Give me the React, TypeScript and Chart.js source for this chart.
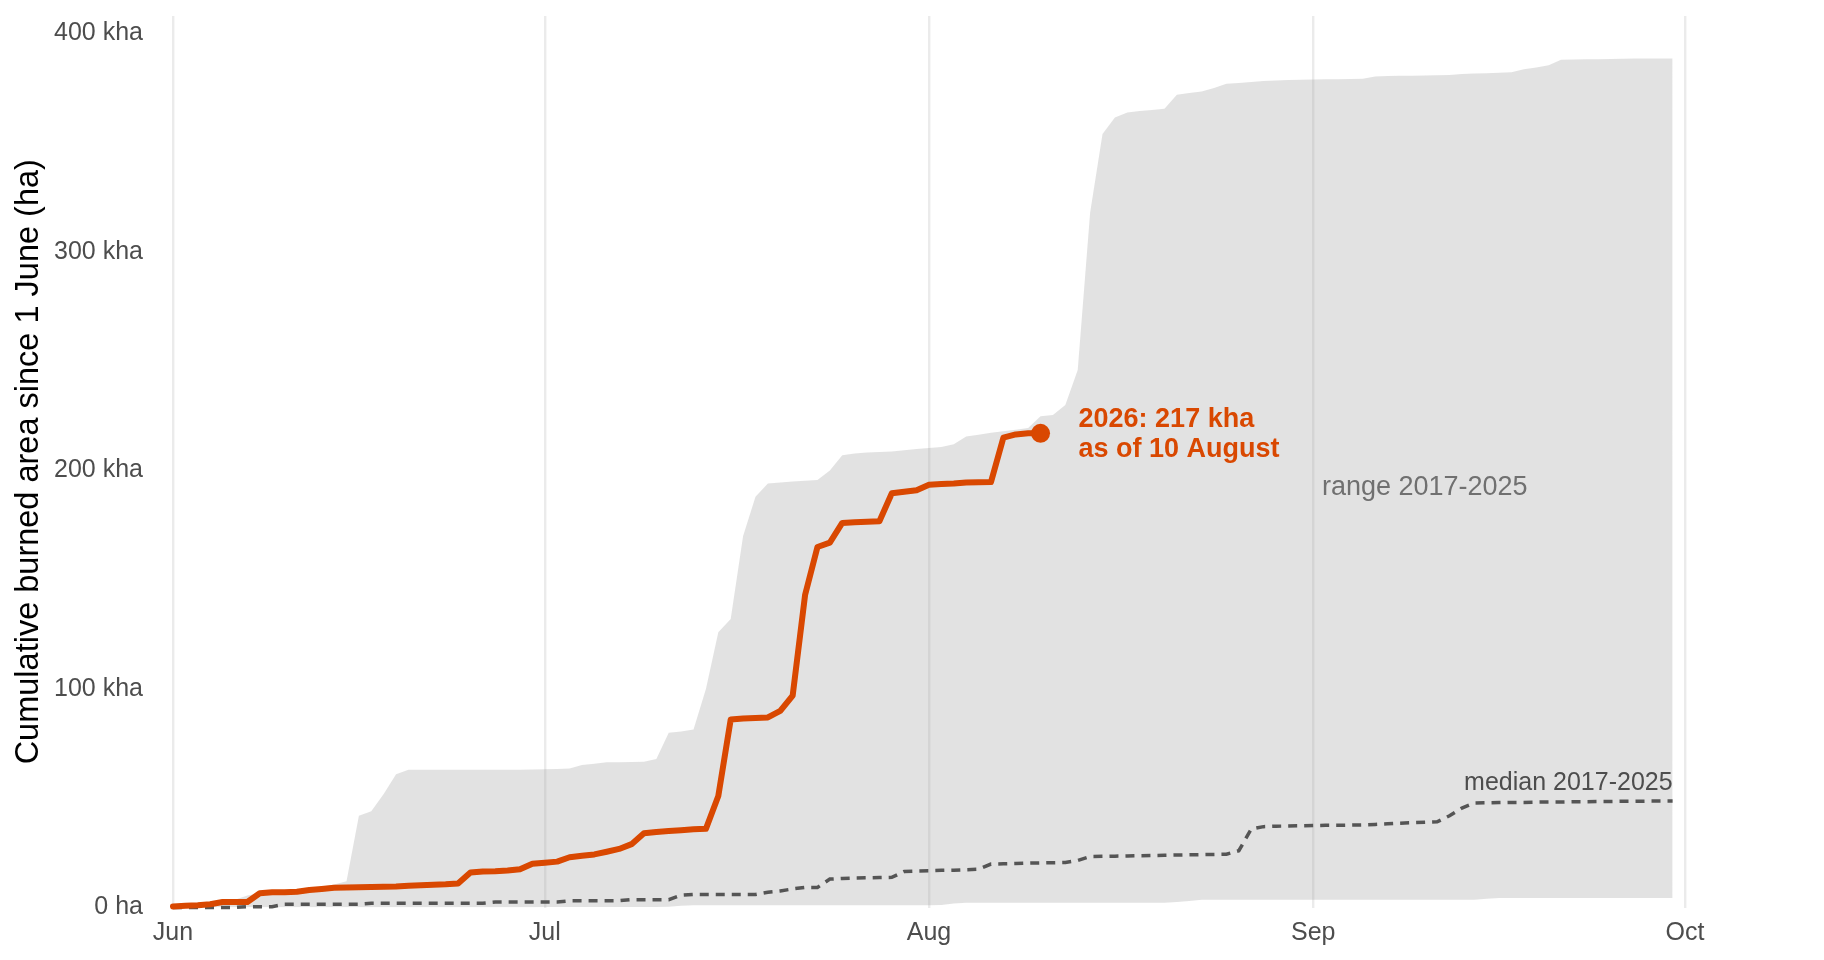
import { useEffect, useRef } from "react";
import { Chart, registerables } from "chart.js";

Chart.register(...registerables);

// x axis: days since 1 June
const monthTicks = [0, 30, 61, 92, 122];
const monthLabels = ["Jun", "Jul", "Aug", "Sep", "Oct"];
// y axis in kha
const yTicks = [0, 100, 200, 300, 400];
const yTickLabels = ["0 ha", "100 kha", "200 kha", "300 kha", "400 kha"];

// cumulative burned area 2026 (kha), one value per day from 1 June to 10 August
const burned2026 = [
  0.5, 0.8, 1, 1.5, 2.5, 2.5, 2.5, 6.5, 7, 7,
  7.2, 8, 8.5, 9, 9.2, 9.3, 9.4, 9.5, 9.6, 10,
  10.2, 10.4, 10.6, 11, 16, 16.5, 16.6, 16.9, 17.5, 20,
  20.5, 21, 23, 23.7, 24.3, 25.5, 26.8, 29, 34, 34.6,
  35, 35.4, 35.8, 36, 51, 86, 86.5, 86.7, 87, 90,
  97, 143, 165, 167, 176, 176.3, 176.5, 176.8, 189.6, 190.3,
  191, 193.5, 193.8, 194, 194.5, 194.6, 194.7, 215, 216.5, 217,
  217,
];

// range 2017-2025, lower and upper bound (kha), 1 June to 30 September
const rangeLow = [
  0, 0, 0, 0, 0, 0, 0, 0, 0, 0,
  0, 0, 0, 0, 0, 0, 0, 0, 0, 0,
  0, 0, 0, 0, 0, 0, 0, 0, 0, 0,
  0.2, 0.2, 0.2, 0.2, 0.2, 0.2, 0.2, 0.2, 0.2, 0.2,
  0.4, 0.8, 1, 1, 1, 1, 1, 1, 1, 1,
  1, 1, 1, 1, 1, 1, 1, 1, 1, 1,
  1, 1, 1.2, 1.8, 2.2, 2.2, 2.2, 2.2, 2.2, 2.2,
  2.2, 2.2, 2.2, 2.2, 2.2, 2.2, 2.2, 2.2, 2.2, 2.2,
  2.2, 2.5, 3, 3.6, 3.6, 3.6, 3.6, 3.6, 3.6, 3.6,
  3.6, 3.6, 3.6, 3.6, 3.6, 3.6, 3.6, 3.6, 3.6, 3.6,
  3.6, 3.6, 3.6, 3.6, 3.6, 3.6, 4, 4.4, 4.4, 4.4,
  4.4, 4.4, 4.4, 4.4, 4.4, 4.4, 4.4, 4.4, 4.4, 4.4,
  4.4, 4.4,
];

const rangeHigh = [
  0.5, 1, 1.5, 2, 2.5, 3.5, 5.5, 6.5, 7, 7.5,
  8, 8.5, 9.5, 10.5, 12, 42, 44, 52, 61, 63,
  63, 63, 63, 63, 63, 63, 63, 63, 63, 63.2,
  63.3, 63.4, 63.6, 65.2, 65.8, 66.5, 66.5, 66.6, 66.7, 68,
  80, 80.6, 81.5, 100, 126, 132, 170, 188, 194, 194.5,
  195, 195.3, 195.6, 200, 207, 207.8, 208.2, 208.5, 208.7, 209.3,
  209.8, 210.3, 210.8, 212, 215.5, 216.4, 217.3, 218, 218.7, 219.4,
  224.8, 225.4, 230, 246, 318, 354, 361.6, 363.8, 364.5, 365,
  365.5, 372, 372.8, 373.5, 375, 377, 377.3, 377.8, 378.2, 378.5,
  378.7, 378.8, 378.9, 379, 379.1, 379.2, 379.3, 380.3, 380.5, 380.6,
  380.7, 380.8, 380.9, 381, 381.4, 381.7, 381.8, 382, 382.3, 383.6,
  384.4, 385.5, 388, 388.1, 388.2, 388.2, 388.3, 388.4, 388.5, 388.5,
  388.6, 388.6,
];

const median = [
  0, 0, 0, 0, 0, 0, 0.4, 0.4, 0.4, 1.5,
  1.5, 1.5, 1.5, 1.5, 1.5, 1.5, 1.9, 1.9, 1.9, 1.9,
  1.9, 1.9, 1.9, 1.9, 1.9, 1.9, 2.5, 2.5, 2.5, 2.5,
  2.5, 2.5, 3.1, 3.1, 3.1, 3.1, 3.1, 3.6, 3.6, 3.6,
  3.6, 5.6, 6, 6, 6, 6, 6, 6, 7, 7.6,
  8.5, 9.2, 9.2, 13, 13.3, 13.5, 13.6, 13.7, 13.8, 16.5,
  16.7, 16.8, 17, 17.1, 17.3, 17.5, 19.9, 20, 20.1, 20.3,
  20.4, 20.5, 20.6, 21.5, 23.3, 23.4, 23.5, 23.6, 23.7, 23.8,
  23.9, 24, 24.1, 24.2, 24.3, 24.4, 26, 35.9, 37, 37.2,
  37.3, 37.4, 37.5, 37.6, 37.6, 37.7, 37.8, 38, 38.3, 38.6,
  38.8, 39, 39.2, 42, 45.5, 47.8, 47.9, 48, 48.1, 48.1,
  48.2, 48.3, 48.3, 48.4, 48.4, 48.5, 48.5, 48.6, 48.6, 48.7,
  48.7, 48.7,
];

// label anchors [day, kha]
const rangeLabelAt = [101, 192];
const medianLabelAt = [121, 57];

const ORANGE = "#d94801";
const FONT = "'Liberation Sans', Arial, sans-serif";

const toPoints = (arr: number[]) => arr.map((v, i) => ({ x: i, y: v }));

const labelsPlugin = {
  id: "labels",
  afterDatasetsDraw(chart: any) {
    const { ctx } = chart;
    const xs = chart.scales.x;
    const ys = chart.scales.y;
    const lastDay = burned2026.length - 1;
    const lastVal = burned2026[lastDay];
    const px = xs.getPixelForValue(lastDay);
    const py = ys.getPixelForValue(lastVal);

    ctx.save();
    ctx.textBaseline = "middle";

    ctx.font = `bold 27px ${FONT}`;
    ctx.fillStyle = ORANGE;
    ctx.textAlign = "left";
    ctx.fillText(`2026: ${lastVal} kha`, px + 38, py - 14);
    ctx.fillText("as of 10 August", px + 38, py + 16);

    ctx.font = `27px ${FONT}`;
    ctx.fillStyle = "#707070";
    ctx.textAlign = "center";
    ctx.fillText(
      "range 2017-2025",
      xs.getPixelForValue(rangeLabelAt[0]),
      ys.getPixelForValue(rangeLabelAt[1])
    );

    ctx.font = `25px ${FONT}`;
    ctx.fillStyle = "#4d4d4d";
    ctx.textAlign = "right";
    ctx.fillText(
      "median 2017-2025",
      xs.getPixelForValue(medianLabelAt[0]),
      ys.getPixelForValue(medianLabelAt[1])
    );
    ctx.restore();
  },
};

export default function App() {
  const canvasRef = useRef<HTMLCanvasElement>(null);
  const chartRef = useRef<Chart | null>(null);

  useEffect(() => {
    document.body.style.margin = "0";
    Chart.defaults.font.family = FONT;

    if (chartRef.current) {
      chartRef.current.destroy();
    }
    if (!canvasRef.current) return;

    chartRef.current = new Chart(canvasRef.current, {
      type: "line",
      data: {
        datasets: [
          {
            label: "low",
            data: toPoints(rangeLow),
            borderWidth: 0,
            pointRadius: 0,
            fill: false,
            order: 4,
          },
          {
            label: "range 2017-2025",
            data: toPoints(rangeHigh),
            borderWidth: 0,
            pointRadius: 0,
            backgroundColor: "rgba(160,160,160,0.3)",
            fill: "-1",
            order: 3,
          },
          {
            label: "median 2017-2025",
            data: toPoints(median),
            borderColor: "#555555",
            borderWidth: 3.5,
            borderDash: [9, 7],
            pointRadius: 0,
            fill: false,
            clip: false,
            order: 2,
          },
          {
            label: "2026",
            data: toPoints(burned2026),
            borderColor: ORANGE,
            borderWidth: 6,
            borderCapStyle: "round",
            borderJoinStyle: "round",
            pointRadius: 0,
            fill: false,
            clip: false,
            order: 1,
          },
          {
            label: "latest",
            data: [{ x: burned2026.length - 1, y: burned2026[burned2026.length - 1] }],
            showLine: false,
            pointRadius: 9.5,
            pointBackgroundColor: ORANGE,
            pointBorderWidth: 0,
            clip: false,
            order: 0,
          },
        ],
      },
      options: {
        animation: false,
        responsive: false,
        devicePixelRatio: 1,
        layout: { padding: { top: 16, right: 139, left: 0, bottom: 0 } },
        plugins: {
          legend: { display: false },
          tooltip: { enabled: false },
        },
        elements: { line: { tension: 0 } },
        scales: {
          x: {
            type: "linear",
            min: 0,
            max: 122,
            afterBuildTicks: (s: any) => {
              s.ticks = monthTicks.map((v) => ({ value: v }));
            },
            afterFit: (s: any) => {
              s.height = 52.5;
              s.paddingLeft = 0;
              s.paddingRight = 0;
            },
            ticks: {
              autoSkip: false,
              maxRotation: 0,
              padding: 10.5,
              color: "#4d4d4d",
              font: { size: 25 },
              callback: (v: any) => monthLabels[monthTicks.indexOf(Number(v))],
            },
            grid: { color: "#ebebeb", lineWidth: 2.4, drawTicks: false },
            border: { display: false },
          },
          y: {
            min: 0,
            max: 408,
            afterBuildTicks: (s: any) => {
              s.ticks = yTicks.map((v) => ({ value: v }));
            },
            afterFit: (s: any) => {
              s.width = 173;
              s.paddingTop = 0;
              s.paddingBottom = 0;
            },
            ticks: {
              padding: 30,
              color: "#4d4d4d",
              font: { size: 25 },
              callback: (v: any) => yTickLabels[yTicks.indexOf(Number(v))],
            },
            grid: { display: false, drawTicks: false },
            border: { display: false },
            title: {
              display: true,
              text: "Cumulative burned area since 1 June (ha)",
              color: "#000000",
              font: { size: 32.5 },
              padding: { top: 10, bottom: 0 },
            },
          },
        },
      },
      plugins: [labelsPlugin],
    });

    return () => {
      if (chartRef.current) {
        chartRef.current.destroy();
        chartRef.current = null;
      }
    };
  }, []);

  return (
    <div style={{ width: 1824, height: 960, background: "#ffffff" }}>
      <canvas ref={canvasRef} width={1824} height={960} style={{ display: "block" }} />
    </div>
  );
}
